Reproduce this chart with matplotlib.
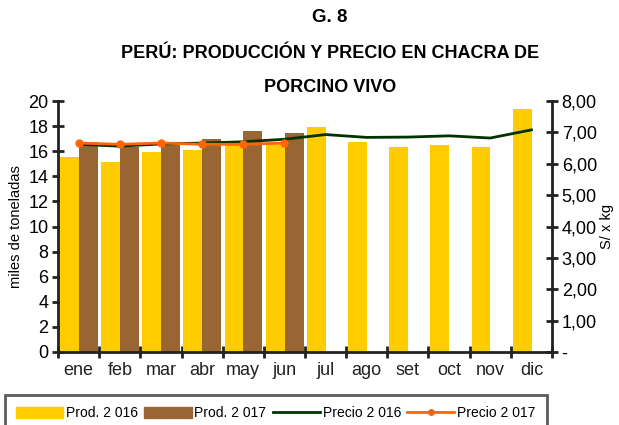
import matplotlib
matplotlib.use("Agg")
import matplotlib.pyplot as plt
import numpy as np
from matplotlib.patches import Patch
from matplotlib.lines import Line2D

months = ["ene", "feb", "mar", "abr", "may", "jun", "jul", "ago", "set", "oct", "nov", "dic"]
prod_2016 = [15.5, 15.1, 15.9, 16.1, 16.5, 16.6, 17.9, 16.7, 16.3, 16.5, 16.3, 19.4]
prod_2017 = [16.7, 16.3, 16.7, 17.0, 17.6, 17.45]
precio_2016 = [6.62, 6.56, 6.63, 6.66, 6.70, 6.78, 6.93, 6.84, 6.85, 6.89, 6.82, 7.08]
precio_2017 = [6.66, 6.62, 6.66, 6.62, 6.62, 6.66]
right_ticks = [0, 1, 2, 3, 4, 5, 6, 7, 8]
right_labels = ["-", "1,00", "2,00", "3,00", "4,00", "5,00", "6,00", "7,00", "8,00"]

FONT = ["Liberation Sans", "DejaVu Sans"]
plt.rcParams["font.family"] = FONT

YEL = "#FFCC00"
BRN = "#996633"
GRN = "#003300"
ORG = "#FF6600"
AX = "#222222"

fig = plt.figure(figsize=(6.19, 4.25), dpi=100)
ax = fig.add_axes([58/619, 73/425, 494/619, 251/425])
ax2 = ax.twinx()

x = np.arange(len(months))
w = 0.46
ax.bar(x - w/2 + 0.005, prod_2016, width=w, color=YEL, zorder=2)
ax.bar(x[:len(prod_2017)] + w/2 + 0.005, prod_2017, width=w, color=BRN, zorder=2)

ax2.plot(x, precio_2016, color=GRN, lw=2, zorder=3)
ax2.plot(x[:len(precio_2017)], precio_2017, color=ORG, lw=2, marker="o", ms=5, zorder=4)

ax.set_xlim(-0.5, 11.5)
ax.set_ylim(0, 20)
ax2.set_ylim(0, 8)
ax.set_yticks(range(0, 21, 2))
ax.set_xticks(x)
ax.set_xticklabels(months)
ax.set_xticks(np.arange(-0.5, 12, 1), minor=True)
ax.tick_params(axis="x", which="major", length=0, labelsize=13, pad=7, colors="#222222")
ax.tick_params(axis="x", which="minor", length=8, width=2, direction="inout", color=AX)
ax.tick_params(axis="y", length=8, width=2, direction="inout", labelsize=13, color=AX, pad=3)
ax2.set_yticks(right_ticks)
ax2.set_yticklabels(right_labels)
ax2.tick_params(axis="y", length=8, width=2, direction="inout", labelsize=13, color=AX, pad=3)

for a in (ax, ax2):
    a.spines["top"].set_visible(False)
    for s in ("left", "right", "bottom"):
        a.spines[s].set_color(AX)
        a.spines[s].set_linewidth(2)
ax.spines["right"].set_visible(False)
ax2.spines["left"].set_visible(False)
ax2.spines["bottom"].set_visible(False)

ax.set_ylabel("miles de toneladas", fontsize=10.5, labelpad=4)
ax2.set_ylabel("S/ x kg", fontsize=10.5, labelpad=2)

fig.text(330/619, 1 - 17/425, "G. 8", ha="center", va="center", fontsize=13.5, fontweight="bold")
fig.text(330/619, 1 - 53/425, "PERÚ: PRODUCCIÓN Y PRECIO EN CHACRA DE", ha="center", va="center", fontsize=13, fontweight="bold")
fig.text(330/619, 1 - 88/425, "PORCINO VIVO", ha="center", va="center", fontsize=13, fontweight="bold")

handles = [Patch(color=YEL), Patch(color=BRN),
           Line2D([], [], color=GRN, lw=2),
           Line2D([], [], color=ORG, lw=2, marker="o", ms=4)]
labels = ["Prod. 2 016", "Prod. 2 017", "Precio 2 016", "Precio 2 017"]
leg = fig.legend(handles, labels, loc="upper left", bbox_to_anchor=(5/619, 1 - 395/425),
                 ncol=4, frameon=True, fancybox=False, edgecolor="#333333",
                 fontsize=10, handlelength=3.4, handleheight=0.9, handletextpad=0.2,
                 columnspacing=0.45, borderpad=0.8, borderaxespad=0)
leg.get_frame().set_linewidth(2)

fig.savefig("out.png", dpi=100)
